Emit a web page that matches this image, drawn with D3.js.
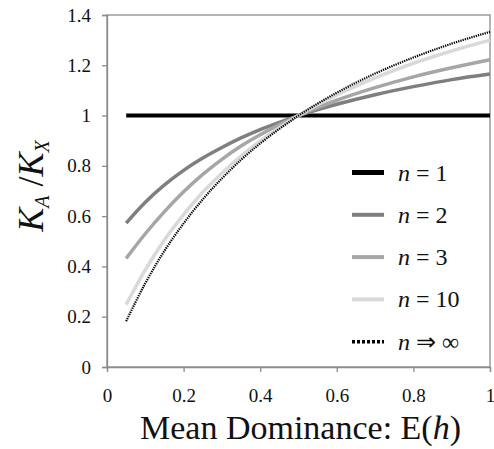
<!DOCTYPE html>
<html><head><meta charset="utf-8">
<script src="https://cdn.jsdelivr.net/npm/d3@7"></script>
<style>body{margin:0;background:#fff}svg{display:block}text{font-family:"Liberation Serif","Times New Roman",serif;fill:#111}</style>
</head><body><svg id="c" width="494" height="449"></svg>
<script>
const hValues = [0.05,0.1,0.15,0.2,0.25,0.3,0.35,0.4,0.45,0.5,0.6,0.7,0.8,0.9,1.0];
const n1 = [1,1,1,1,1,1,1,1,1,1,1,1,1,1,1];
const n2 = [0.572,0.655,0.724,0.782,0.831,0.873,0.911,0.944,0.973,1,1.045,1.083,1.115,1.143,1.165];
const n3 = [0.432,0.53,0.618,0.697,0.766,0.826,0.879,0.924,0.964,1,1.061,1.111,1.154,1.19,1.222];
const n10 = [0.248,0.386,0.505,0.606,0.695,0.771,0.839,0.899,0.952,1,1.082,1.15,1.208,1.257,1.30];
const nInf = [0.182,0.333,0.462,0.571,0.667,0.75,0.824,0.889,0.947,1,1.091,1.167,1.231,1.286,1.333];
const xTicks = [0,0.2,0.4,0.6,0.8,1];
const yTicks = [0,0.2,0.4,0.6,0.8,1,1.2,1.4];
const legendLabels = ["1","2","3","10","∞"];

const series = [
  {vals:n1, color:"#000", w:4, dash:null},
  {vals:n2, color:"#7f7f7f", w:3.5, dash:null},
  {vals:n3, color:"#a6a6a6", w:3.5, dash:null},
  {vals:n10, color:"#d9d9d9", w:3.5, dash:null},
  {vals:nInf, color:"#000", w:2.2, dash:"1.3,1"}
];

const svg = d3.select("#c");
const L=107,R=490,T=15,B=367;
const x = d3.scaleLinear().domain([0,1]).range([L,R]);
const y = d3.scaleLinear().domain([0,1.4]).range([B,T]);
const axisColor="#8c8c8c";

svg.append("rect").attr("x",L).attr("y",T).attr("width",R-L).attr("height",B-T)
  .attr("fill","none").attr("stroke",axisColor).attr("stroke-width",1.3);

const ya = svg.append("g").attr("transform",`translate(${L},0)`)
  .call(d3.axisLeft(y).tickValues(yTicks).tickSize(5).tickPadding(11).tickFormat(d=>d3.format("")(+d.toFixed(1))));
const xa = svg.append("g").attr("transform",`translate(0,${B})`)
  .call(d3.axisBottom(x).tickValues(xTicks).tickSize(5).tickPadding(17).tickFormat(d=>d3.format("")(+d.toFixed(1))));
[ya,xa].forEach(g=>{
  g.attr("font-family",null);
  g.select(".domain").attr("stroke",axisColor).attr("stroke-width",1.3);
  g.selectAll(".tick line").attr("stroke",axisColor).attr("stroke-width",1.3);
  g.selectAll("text").attr("font-size",19).attr("fill","#111");
});

const line = d3.line().x((d,i)=>x(hValues[i])).y(d=>y(d)).curve(d3.curveMonotoneX);
series.forEach(s=>{
  const p = svg.append("path").datum(s.vals).attr("d",line).attr("fill","none")
    .attr("stroke",s.color).attr("stroke-width",s.w);
  if(s.dash) p.attr("stroke-dasharray",s.dash);
});

const lg = svg.append("g");
series.forEach((s,i)=>{
  const yy = 172.5 + i*42.3;
  const l = lg.append("line").attr("x1",352).attr("x2",384).attr("y1",yy).attr("y2",yy)
    .attr("stroke",s.color).attr("stroke-width",s.dash?3.5:(i===0?5:4));
  if(s.dash) l.attr("stroke-dasharray","3,2");
  const t = lg.append("text").attr("x",398).attr("y",yy+8).attr("font-size",24);
  t.append("tspan").attr("font-style","italic").text("n");
  t.append("tspan").text(i===4 ? " ⇒ " : " = ");
  t.append("tspan").text(legendLabels[i]);
});

const xt = svg.append("text").attr("x",(138+463)/2).attr("y",439).attr("text-anchor","middle").attr("font-size",34);
xt.append("tspan").text("Mean Dominance: E(");
xt.append("tspan").attr("font-style","italic").text("h");
xt.append("tspan").text(")");

const yt = svg.append("text").attr("transform","translate(43,186) rotate(-90)").attr("text-anchor","middle").attr("font-size",36);
yt.append("tspan").attr("font-style","italic").text("K");
yt.append("tspan").attr("font-size",20).attr("font-style","italic").attr("dy",6).text("A");
yt.append("tspan").attr("dy",-6).text(" /");
yt.append("tspan").attr("font-style","italic").text("K");
yt.append("tspan").attr("font-size",20).attr("font-style","italic").attr("dy",6).text("X");
</script></body></html>
